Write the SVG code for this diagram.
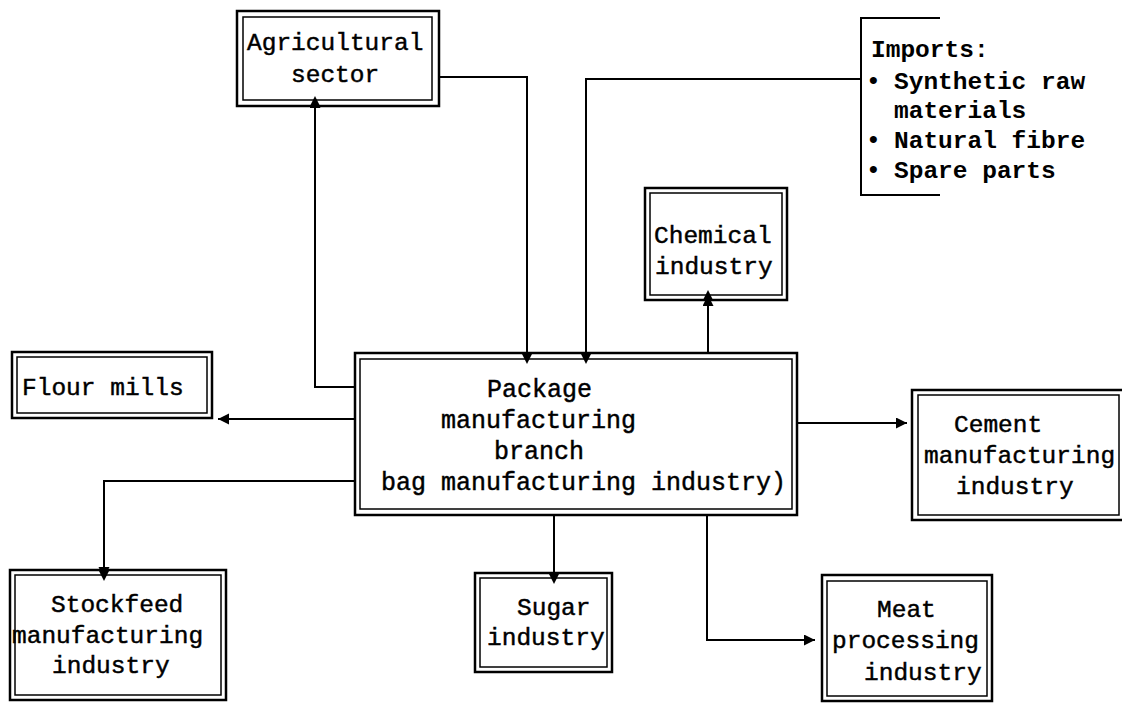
<svg xmlns="http://www.w3.org/2000/svg" width="1122" height="703" viewBox="0 0 1122 703">
  <style>
    .outer { fill: #fff; stroke: #000; stroke-width: 2.5; }
    .inner { fill: none; stroke: #000; stroke-width: 1.5; }
    .t { font-family: "Liberation Mono", "DejaVu Sans Mono", monospace; font-size: 24.5px; fill: #000; stroke: #000; stroke-width: 0.45; }
    .tm { font-size: 25px; }
    .imp { font-family: "Liberation Mono", "DejaVu Sans Mono", monospace; font-size: 24.5px; font-weight: bold; fill: #000; }
    .link { fill: none; stroke: #000; stroke-width: 2; marker-end: url(#arrow); }
    .plain { fill: none; stroke: #000; stroke-width: 2; }
  </style>
  <defs>
    <marker id="arrow" markerUnits="userSpaceOnUse" markerWidth="12" markerHeight="12" refX="11" refY="5.5" orient="auto">
      <path d="M0,0 L11,5.5 L0,11 z" fill="#000"/>
    </marker>
  </defs>

  <rect width="1122" height="703" fill="#fff"/>

  <!-- connectors -->
  <g id="connectors">
    <path class="link" d="M440,77 H527 V363"/>
    <path class="link" d="M861,79 H586 V363"/>
    <path class="link" d="M355,387 H315 V97"/>
    <path class="link" d="M355,419 H218"/>
    <path class="link" d="M355,481 H104 V578"/>
    <path class="link" d="M554,515 V583"/>
    <path class="link" d="M707,515 V640 H815"/>
    <path class="link" d="M797,423 H907"/>
    <path class="link" d="M708,353 V295"/>
  </g>

  <!-- Agricultural sector -->
  <g id="agricultural">
    <rect class="outer" x="237" y="11" width="202" height="95"/>
    <rect class="inner" x="243" y="17" width="189" height="83"/>
    <text class="t" x="247" y="50">Agricultural</text>
    <text class="t" x="291" y="82">sector</text>
  </g>

  <!-- Imports bracket -->
  <g id="imports">
    <path class="plain" d="M940,18 H861 V195 H940"/>
    <text class="imp" x="871" y="57">Imports:</text>
    <text class="imp" x="866" y="89">•</text>
    <text class="imp" x="894" y="89">Synthetic raw</text>
    <text class="imp" x="894" y="118">materials</text>
    <text class="imp" x="866" y="148">•</text>
    <text class="imp" x="894" y="148">Natural fibre</text>
    <text class="imp" x="866" y="178">•</text>
    <text class="imp" x="894" y="178">Spare parts</text>
  </g>

  <!-- Chemical industry -->
  <g id="chemical">
    <rect class="outer" x="645" y="188" width="142" height="112"/>
    <rect class="inner" x="650" y="193" width="132" height="102"/>
    <text class="t" x="654" y="243">Chemical</text>
    <text class="t" x="655" y="274">industry</text>
  </g>

  <!-- Package manufacturing branch -->
  <g id="package">
    <rect class="outer" x="355" y="353" width="442" height="162"/>
    <rect class="inner" x="360" y="359" width="432" height="150"/>
    <text class="t tm" x="487" y="397">Package</text>
    <text class="t tm" x="441" y="428">manufacturing</text>
    <text class="t tm" x="494" y="459">branch</text>
    <text class="t tm" x="381" y="490">bag manufacturing industry)</text>
  </g>

  <!-- Flour mills -->
  <g id="flour">
    <rect class="outer" x="12" y="352" width="200" height="66"/>
    <rect class="inner" x="17" y="357" width="190" height="56"/>
    <text class="t" x="22" y="395">Flour mills</text>
  </g>

  <!-- Cement manufacturing industry -->
  <g id="cement">
    <rect class="outer" x="912" y="390" width="213" height="130"/>
    <rect class="inner" x="918" y="395" width="201" height="120"/>
    <text class="t" x="954" y="432">Cement</text>
    <text class="t" x="924" y="463">manufacturing</text>
    <text class="t" x="956" y="494">industry</text>
  </g>

  <!-- Stockfeed manufacturing industry -->
  <g id="stockfeed">
    <rect class="outer" x="10" y="570" width="216" height="130"/>
    <rect class="inner" x="15" y="575" width="206" height="120"/>
    <text class="t" x="51" y="612">Stockfeed</text>
    <text class="t" x="12" y="643">manufacturing</text>
    <text class="t" x="52" y="673">industry</text>
  </g>

  <!-- Sugar industry -->
  <g id="sugar">
    <rect class="outer" x="475" y="573" width="137" height="99"/>
    <rect class="inner" x="480" y="578" width="127" height="89"/>
    <text class="t" x="517" y="615">Sugar</text>
    <text class="t" x="487" y="645">industry</text>
  </g>

  <!-- Meat processing industry -->
  <g id="meat">
    <rect class="outer" x="822" y="575" width="170" height="126"/>
    <rect class="inner" x="827" y="581" width="160" height="115"/>
    <text class="t" x="877" y="617">Meat</text>
    <text class="t" x="832" y="648">processing</text>
    <text class="t" x="864" y="680">industry</text>
  </g>

  <!-- arrowheads that sit on box borders, redrawn above the boxes -->
  <g id="arrowheads" fill="#000">
    <path d="M521.5,353 L532.5,353 L527,364 z"/>
    <path d="M580.5,353 L591.5,353 L586,364 z"/>
    <path d="M309.5,107 L320.5,107 L315,96 z"/>
    <path d="M702.5,301 L713.5,301 L708,290 z"/>
    <path d="M98.5,570 L109.5,570 L104,581 z"/>
    <path d="M548.5,573 L559.5,573 L554,584 z"/>
  </g>
</svg>
